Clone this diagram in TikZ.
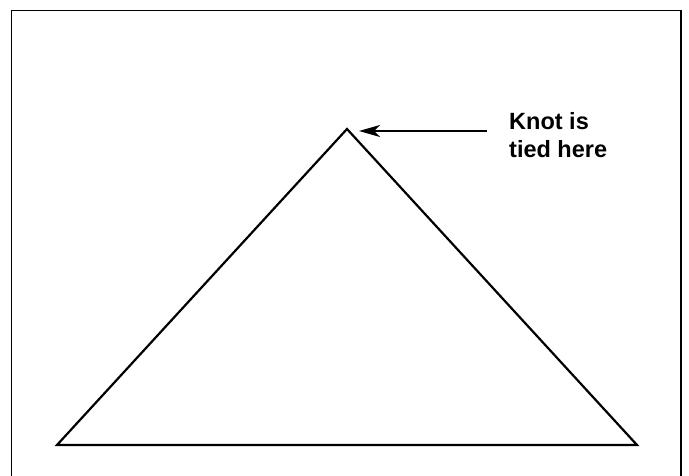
\documentclass[tikz,border=0pt]{standalone}
\usepackage{fontspec}
\setmainfont{Liberation Sans}
\usetikzlibrary{arrows.meta,positioning}
\tikzset{
  frame/.style={draw=black,line width=1.5pt},
  tri/.style={draw=black,line width=2.2pt,line join=miter},
  arrow/.style={-{Stealth[length=21pt,width=12pt,inset=6pt]},line width=1.6pt},
  note/.style={font=\bfseries\fontsize{23.5}{28.5}\selectfont,align=left,inner sep=0pt},
}
\begin{document}
\begin{tikzpicture}[x=1pt,y=-1pt]
  \useasboundingbox (0,0) rectangle (689,476);
  \draw[frame] (11.5,10.5) rectangle (681,490);

  \coordinate (apex) at (347,129);
  \coordinate (left) at (57,445);
  \coordinate (right) at (637,445);
  \draw[tri] (left) -- (apex) -- (right) -- cycle;

  \node[note,anchor=north west] (knot) at (509,112) {Knot is\\tied here};
  \coordinate (tail) at (487,131);
  \draw[arrow,shorten >=12pt] (tail) -- (apex |- tail);
\end{tikzpicture}
\end{document}
